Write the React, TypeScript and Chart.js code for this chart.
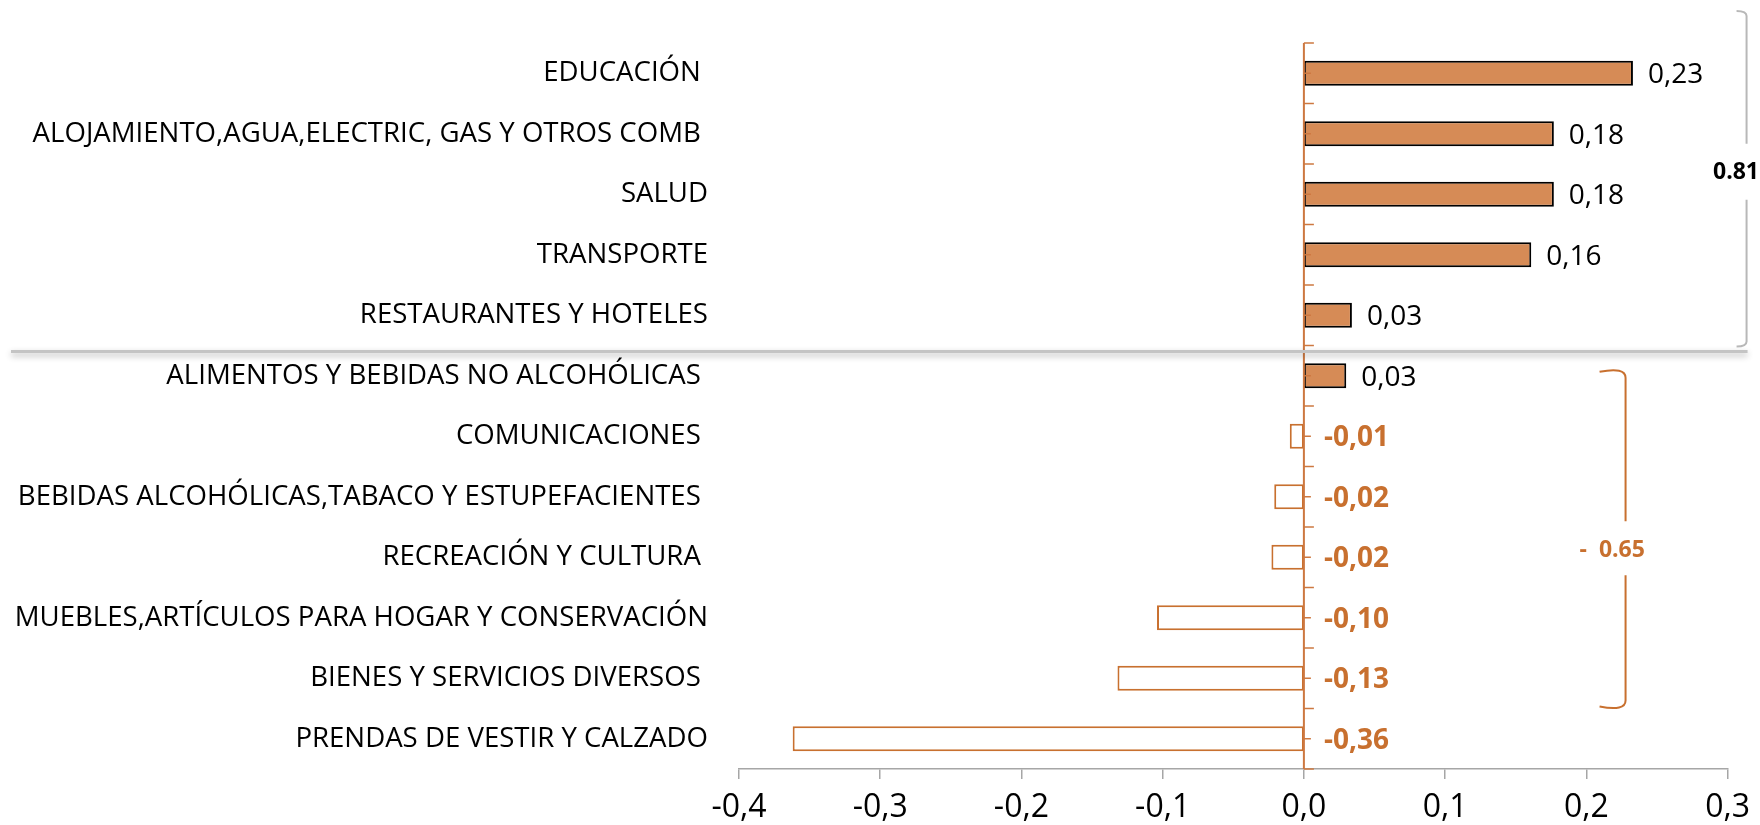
import { useEffect, useRef } from 'react';
import { Chart, registerables } from 'chart.js';

Chart.register(...registerables);

const categories = [
  'EDUCACIÓN ',
  'ALOJAMIENTO,AGUA,ELECTRIC, GAS Y OTROS COMB ',
  'SALUD',
  'TRANSPORTE',
  'RESTAURANTES Y HOTELES',
  'ALIMENTOS Y BEBIDAS NO ALCOHÓLICAS ',
  'COMUNICACIONES ',
  'BEBIDAS ALCOHÓLICAS,TABACO Y ESTUPEFACIENTES ',
  'RECREACIÓN Y CULTURA ',
  'MUEBLES,ARTÍCULOS PARA HOGAR Y CONSERVACIÓN',
  'BIENES Y SERVICIOS DIVERSOS ',
  'PRENDAS DE VESTIR Y CALZADO',
];

const values = [0.233, 0.177, 0.177, 0.161, 0.034, 0.030, -0.010, -0.021, -0.023, -0.104, -0.132, -0.362];

const xMin = -0.4;
const xMax = 0.3;
const xStep = 0.1;

const positiveTotal = '0.81';
const negativeTotal = '-  0.65';
const positiveGroupSize = 5;

const FONT = '"Open Sans", "Noto Sans", sans-serif';
const ORANGE = '#C8702F';
const AXIS_ORANGE = '#CD7840';
const FILL = '#D68B56';
const GRAY = '#A6A6A6';

const fmt = (v: number, d: number) => {
  if (Math.abs(v) < 1e-9) v = 0;
  return v.toFixed(d).replace('.', ',');
};

const decorPlugin = {
  id: 'decor',
  afterDatasetsDraw(chart: any) {
    const ctx: CanvasRenderingContext2D = chart.ctx;
    const xs = chart.scales.x;
    const ys = chart.scales.y;
    const { top, bottom, right } = chart.chartArea;
    const n = categories.length;
    const step = (bottom - top) / n;
    const zero = xs.getPixelForValue(0);
    const boundary = (i: number) => ys.getPixelForValue(0) - step / 2 + i * step;

    ctx.save();
    // zero axis (orange) with ticks
    ctx.strokeStyle = AXIS_ORANGE;
    ctx.lineWidth = 2;
    ctx.beginPath();
    ctx.moveTo(zero, top);
    ctx.lineTo(zero, bottom);
    ctx.stroke();
    ctx.lineWidth = 1.5;
    for (let i = 0; i <= n; i++) {
      const yy = boundary(i);
      ctx.beginPath();
      ctx.moveTo(zero, yy);
      ctx.lineTo(zero + 10, yy);
      ctx.stroke();
    }
    for (let i = 0; i < n; i++) {
      const yy = ys.getPixelForValue(i);
      ctx.beginPath();
      ctx.moveTo(zero, yy);
      ctx.lineTo(zero + 7, yy);
      ctx.stroke();
    }

    // data labels
    const meta = chart.getDatasetMeta(0);
    meta.data.forEach((bar: any, i: number) => {
      const v = values[i];
      ctx.textBaseline = 'middle';
      ctx.textAlign = 'left';
      if (v >= 0) {
        ctx.fillStyle = '#000';
        ctx.font = `28px ${FONT}`;
        ctx.fillText(fmt(v, 2), bar.x + 15, bar.y + 2);
      } else {
        ctx.fillStyle = ORANGE;
        ctx.font = `bold 28px ${FONT}`;
        ctx.fillText(fmt(v, 2), zero + 20, bar.y + 2);
      }
    });

    // separator line with shadow
    const sepY = boundary(positiveGroupSize) + 6;
    ctx.save();
    ctx.strokeStyle = '#C4C4C4';
    ctx.lineWidth = 3;
    ctx.shadowColor = 'rgba(0,0,0,0.3)';
    ctx.shadowBlur = 6;
    ctx.shadowOffsetY = 3;
    ctx.beginPath();
    ctx.moveTo(11, sepY);
    ctx.lineTo(right + 20, sepY);
    ctx.stroke();
    ctx.restore();

    // gray bracket (positive group)
    const gx = right + 19;
    const gTop = top - 32;
    const gBot = boundary(positiveGroupSize) + 1;
    const gMid = (gTop + gBot) / 2 - 7;
    ctx.strokeStyle = '#B8B8B8';
    ctx.lineWidth = 2;
    ctx.beginPath();
    ctx.moveTo(gx - 10, gTop);
    ctx.quadraticCurveTo(gx, gTop, gx, gTop + 5);
    ctx.lineTo(gx, gMid - 28);
    ctx.moveTo(gx, gMid + 28);
    ctx.lineTo(gx, gBot - 5);
    ctx.quadraticCurveTo(gx, gBot, gx - 10, gBot);
    ctx.stroke();
    ctx.fillStyle = '#000';
    ctx.font = `bold 23px ${FONT}`;
    ctx.textAlign = 'right';
    ctx.textBaseline = 'middle';
    ctx.fillText(positiveTotal, 1759, gMid + 1);

    // orange bracket (negative group)
    const ox = right - 102;
    const oTop = ys.getPixelForValue(positiveGroupSize) - 6;
    const oBot = boundary(n - 1);
    const oMid = (oTop + oBot) / 2 + 10;
    ctx.strokeStyle = ORANGE;
    ctx.lineWidth = 2;
    ctx.beginPath();
    ctx.moveTo(ox - 26, oTop + 2);
    ctx.quadraticCurveTo(ox, oTop - 3, ox, oTop + 8);
    ctx.lineTo(ox, oMid - 28);
    ctx.moveTo(ox, oMid + 26);
    ctx.lineTo(ox, oBot - 8);
    ctx.quadraticCurveTo(ox, oBot + 3, ox - 26, oBot - 2);
    ctx.stroke();
    ctx.fillStyle = ORANGE;
    ctx.font = `bold 23px ${FONT}`;
    ctx.textAlign = 'left';
    ctx.fillText(negativeTotal, ox - 46, oMid + 1);
    ctx.restore();
  },
};

export default function App() {
  const ref = useRef<HTMLCanvasElement>(null);

  useEffect(() => {
    document.body.style.margin = '0';
    const canvas = ref.current;
    if (!canvas) return;
    const chart = new Chart(canvas, {
      type: 'bar',
      data: {
        labels: categories,
        datasets: [
          {
            data: values,
            backgroundColor: values.map((v) => (v >= 0 ? FILL : '#FFFFFF')),
            borderColor: values.map((v) => (v >= 0 ? '#000000' : ORANGE)),
            borderWidth: 2,
            borderSkipped: false,
            barPercentage: 0.41,
            categoryPercentage: 1,
          },
        ],
      },
      options: {
        indexAxis: 'y',
        animation: false,
        responsive: false,
        maintainAspectRatio: false,
        layout: { padding: { top: 43, right: 30, left: 0, bottom: 0 } },
        plugins: {
          legend: { display: false },
          tooltip: { enabled: false },
        },
        scales: {
          x: {
            type: 'linear',
            position: 'bottom',
            min: xMin,
            max: xMax,
            ticks: {
              stepSize: xStep,
              color: '#000',
              font: { family: FONT, size: 32 },
              padding: 10,
              callback: (v: any) => fmt(Number(v), 1),
            },
            grid: {
              display: true,
              drawOnChartArea: false,
              drawTicks: true,
              tickLength: 10,
              color: GRAY,
              lineWidth: 1.5,
            },
            border: { display: true, color: GRAY, width: 1.5 },
            afterFit: (scale: any) => {
              scale.height = 56;
            },
          },
          y: {
            type: 'category',
            ticks: {
              color: '#000',
              font: { family: FONT, size: 27.6 },
              padding: 31,
              autoSkip: false,
            },
            grid: { display: false, drawTicks: false },
            border: { display: false },
            afterFit: (scale: any) => {
              scale.width = 739;
              scale.paddingTop = 0;
              scale.paddingBottom = 0;
            },
          },
        },
      },
      plugins: [decorPlugin],
    });
    return () => chart.destroy();
  }, []);

  return (
    <div style={{ position: 'absolute', left: 0, top: 0, width: 1760, height: 825, background: '#fff' }}>
      <canvas ref={ref} width={1760} height={825} style={{ display: 'block' }} />
    </div>
  );
}
